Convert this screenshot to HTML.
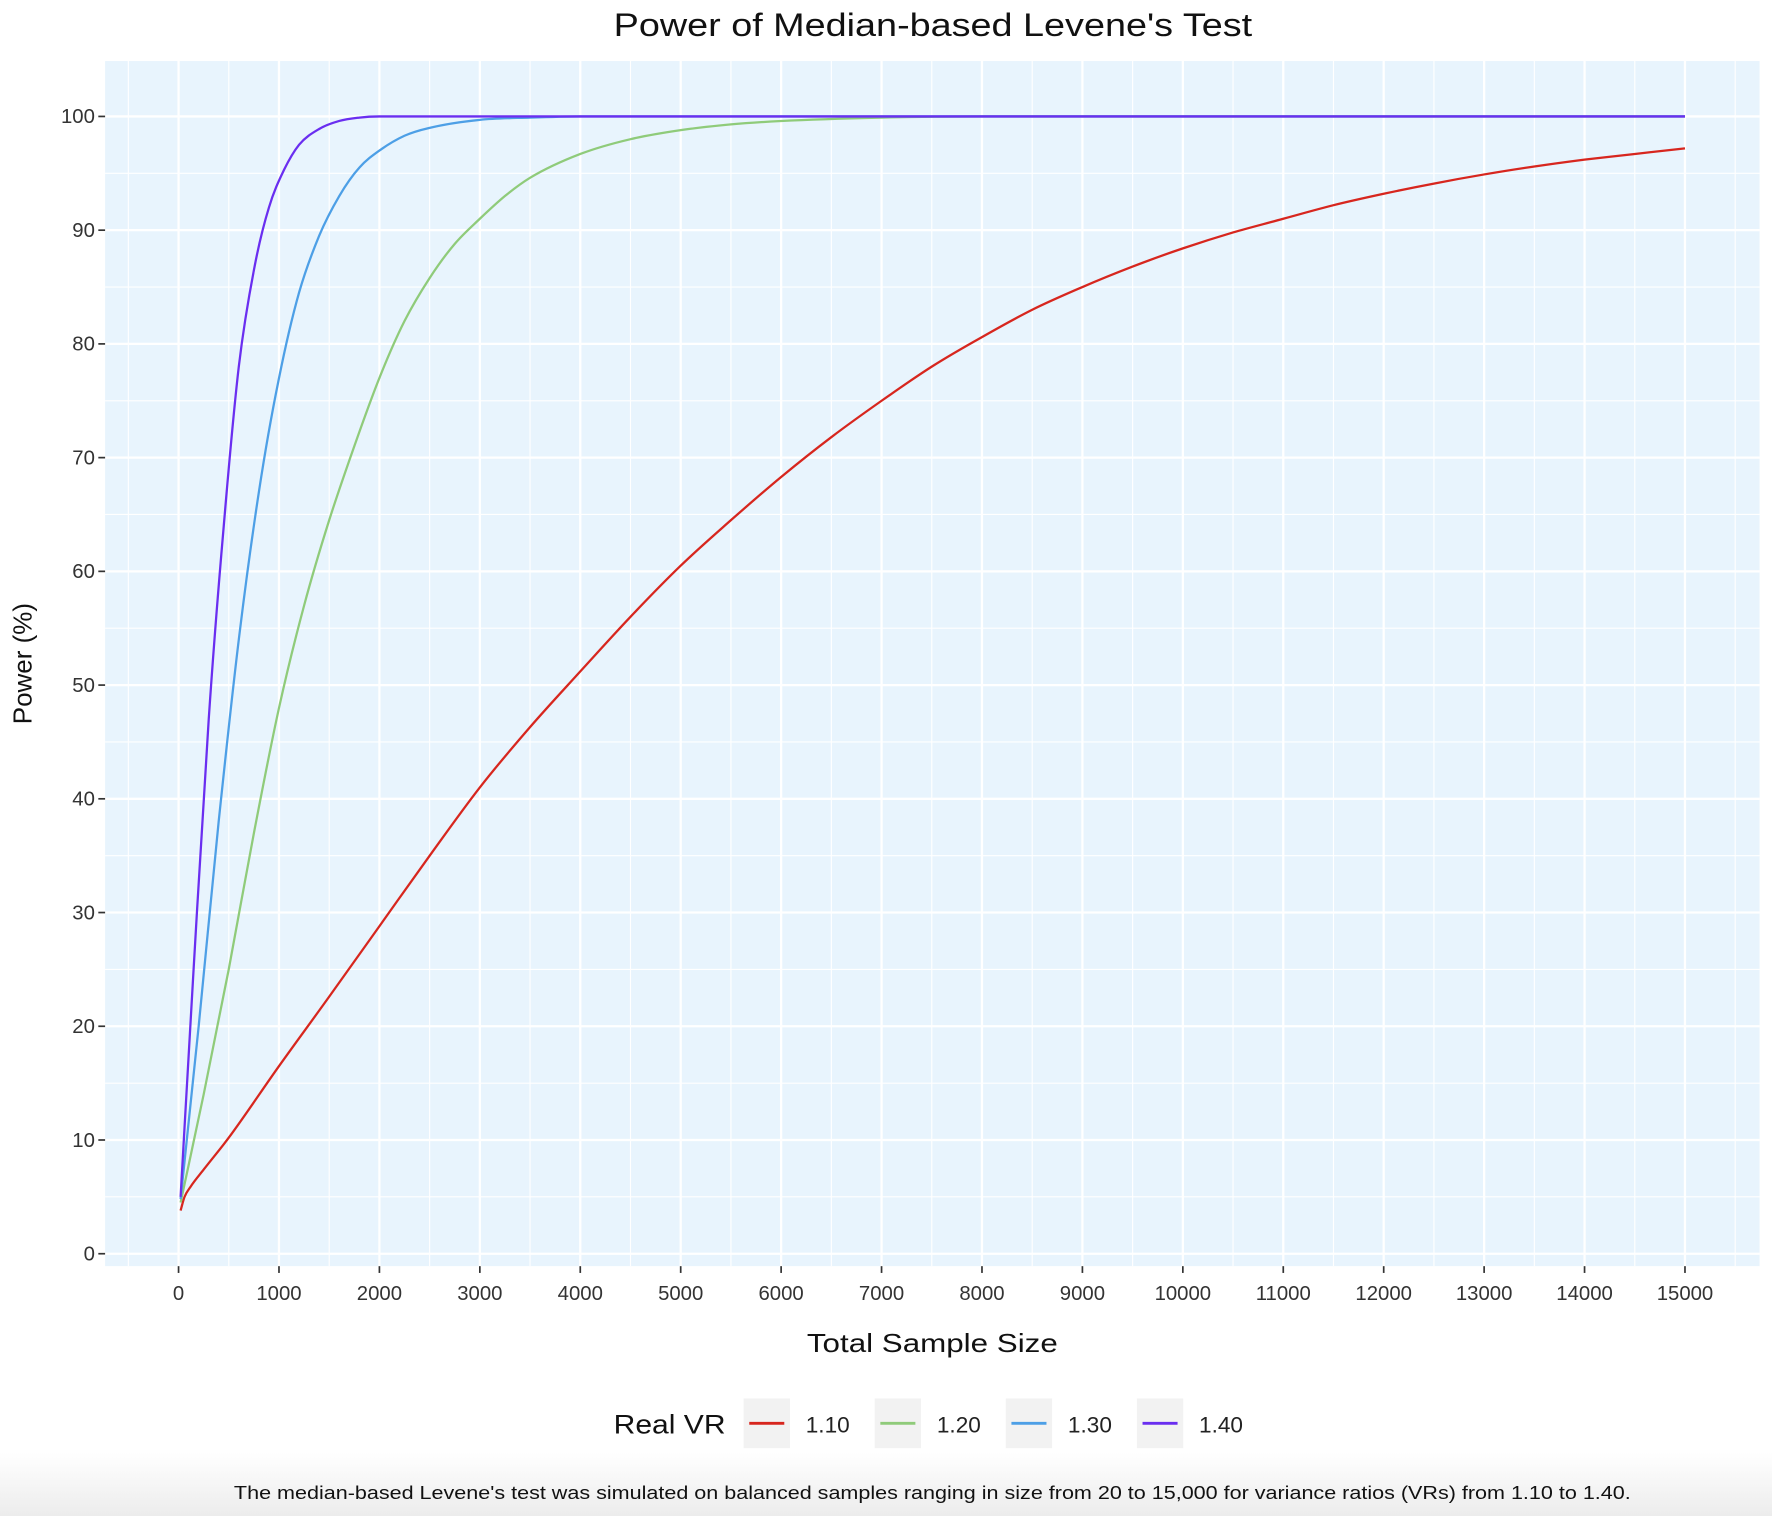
<!DOCTYPE html>
<html><head><meta charset="utf-8"><style>
html,body{margin:0;padding:0;background:#fff;}
svg{display:block;font-family:"Liberation Sans",sans-serif;}
</style></head><body>
<svg id="chart" width="1772" height="1516" viewBox="0 0 1568 1341" preserveAspectRatio="none">
<defs><linearGradient id="bg" x1="0" y1="0" x2="0" y2="1"><stop offset="0" stop-color="#ffffff"/><stop offset="1" stop-color="#ececec"/></linearGradient></defs>
<rect x="0" y="1285" width="1568" height="56" fill="url(#bg)"/>
<text x="543" y="32" font-size="29" textLength="565" lengthAdjust="spacingAndGlyphs" fill="#111">Power of Median-based Levene's Test</text>
<rect x="93" y="54" width="1464" height="1066" fill="#e8f4fd"/>
<g id="grid"></g>
<g id="axes"></g>
<g id="lines"></g>
<text x="714" y="1196" font-size="23" textLength="222" lengthAdjust="spacingAndGlyphs" fill="#111">Total Sample Size</text>
<text x="0" y="0" font-size="23" text-anchor="middle" fill="#111" transform="translate(28,587) rotate(-90)">Power (%)</text>
<g id="legend">
<text x="543" y="1268" font-size="24" textLength="99" lengthAdjust="spacingAndGlyphs" fill="#111">Real VR</text>
</g>
<text x="207" y="1326" font-size="16" textLength="1236" lengthAdjust="spacingAndGlyphs" fill="#111">The median-based Levene's test was simulated on balanced samples ranging in size from 20 to 15,000 for variance ratios (VRs) from 1.10 to 1.40.</text>
</svg>
<script>
const xTicks=[0,1000,2000,3000,4000,5000,6000,7000,8000,9000,10000,11000,12000,13000,14000,15000];
const yTicks=[0,10,20,30,40,50,60,70,80,90,100];
const seriesNames=["1.10","1.20","1.30","1.40"];
const seriesColors=["#d7261e","#8fcb7a","#4d9fe6","#6a2ef0"];
const x110=[20,60,120,250,500,1000,1500,2000,2500,3000,3500,4000,4500,5000,5500,6000,6500,7000,7500,8000,8500,9000,9500,10000,10500,11000,11500,12000,12500,13000,13500,14000,14500,15000];
const y110=[3.8,5,5.9,7.4,10.2,16.5,22.6,28.8,35,41,46.3,51.2,56,60.5,64.5,68.3,71.8,75,78,80.6,83,85,86.8,88.4,89.8,91,92.2,93.2,94.1,94.9,95.6,96.2,96.7,97.2];
const x120=[20,250,500,750,1000,1250,1500,1750,2000,2250,2500,2750,3000,3250,3500,4000,4500,5000,5500,6000,7000,8000,15000];
const y120=[4.5,14,25,37,48,57,64.5,71,77,82,85.8,88.8,91,93,94.6,96.7,98,98.8,99.3,99.6,99.9,100,100];
const x130=[20,200,400,600,800,1000,1200,1400,1600,1800,2000,2250,2500,3000,3500,4000,15000];
const y130=[4.8,20,38,54,67,77,84.5,89.5,93,95.5,97,98.3,99,99.7,99.9,100,100];
const x140=[20,150,300,450,600,750,900,1050,1200,1400,1600,1800,2000,15000];
const y140=[5,25,47,64,78,86.5,92,95.3,97.5,98.9,99.6,99.9,100,100];
const seriesX=[x110,x120,x130,x140];
const seriesY=[y110,y120,y130,y140];
const NS="http://www.w3.org/2000/svg";
const X=v=>158+(v/15000)*(1491-158);
const Y=v=>1109-(v/100)*(1109-103);
function mk(t,a,p){const e=document.createElementNS(NS,t);for(const k in a)e.setAttribute(k,a[k]);p.appendChild(e);return e;}
function smoothPath(px,py){
  const n=px.length,d=[],m=new Array(n).fill(0);
  for(let i=0;i<n-1;i++)d.push((py[i+1]-py[i])/(px[i+1]-px[i]));
  m[0]=d[0];m[n-1]=d[n-2];
  for(let i=1;i<n-1;i++){m[i]=(d[i-1]*d[i]<=0)?0:(d[i-1]+d[i])/2;}
  for(let i=0;i<n-1;i++){if(d[i]===0){m[i]=0;m[i+1]=0;continue;}const a=m[i]/d[i],b=m[i+1]/d[i],s=a*a+b*b;if(s>9){const t=3/Math.sqrt(s);m[i]=t*a*d[i];m[i+1]=t*b*d[i];}}
  let s='M'+px[0].toFixed(1)+','+py[0].toFixed(1);
  for(let i=0;i<n-1;i++){const h=(px[i+1]-px[i])/3;
    s+=' C'+(px[i]+h).toFixed(1)+','+(py[i]+m[i]*h).toFixed(1)+' '+(px[i+1]-h).toFixed(1)+','+(py[i+1]-m[i+1]*h).toFixed(1)+' '+px[i+1].toFixed(1)+','+py[i+1].toFixed(1);}
  return s;}
const grid=document.getElementById('grid'),axes=document.getElementById('axes'),lines=document.getElementById('lines'),legend=document.getElementById('legend');
for(let v=-500;v<=15500;v+=500){const px=X(v);if(px<93||px>1557)continue;const major=v%1000===0;
const l=mk('line',{x1:px,x2:px,y1:54,y2:1120,stroke:'#fff','stroke-width':major?2:1},grid);

}
for(let v=-5;v<=105;v+=5){const py=Y(v);if(py<54||py>1120)continue;const major=v%10===0;
const l=mk('line',{x1:93,x2:1557,y1:py,y2:py,stroke:'#fff','stroke-width':major?2:1},grid);

}
xTicks.forEach(v=>{const px=X(v);
const tk=mk('line',{x1:px,x2:px,y1:1120,y2:1126,stroke:'#333','stroke-width':1.5},axes);


const t=mk('text',{x:px,y:1150,'font-size':18,'text-anchor':'middle',fill:'#333'},axes);t.textContent=v;

});
yTicks.forEach(v=>{const py=Y(v);
const tk=mk('line',{x1:87,x2:93,y1:py,y2:py,stroke:'#333','stroke-width':1.5},axes);


const t=mk('text',{x:84,y:py+6,'font-size':18,'text-anchor':'end',fill:'#333'},axes);t.textContent=v;

});
seriesNames.forEach((n,i)=>{
const px=seriesX[i].map(X),py=seriesY[i].map(Y);
const p=mk('path',{d:smoothPath(px,py),fill:'none',stroke:seriesColors[i],'stroke-width':2,'stroke-linejoin':'round'},lines);


const bx=658+i*116;
const r=mk('rect',{x:bx,y:1237,width:41,height:44,fill:'#f2f2f2'},legend);


mk('line',{x1:bx+5,x2:bx+36,y1:1259,y2:1259,stroke:seriesColors[i],'stroke-width':2.5},legend);
const t=mk('text',{x:bx+55,y:1267,'font-size':20,fill:'#222'},legend);t.textContent=n;

});
</script>
</body></html>
